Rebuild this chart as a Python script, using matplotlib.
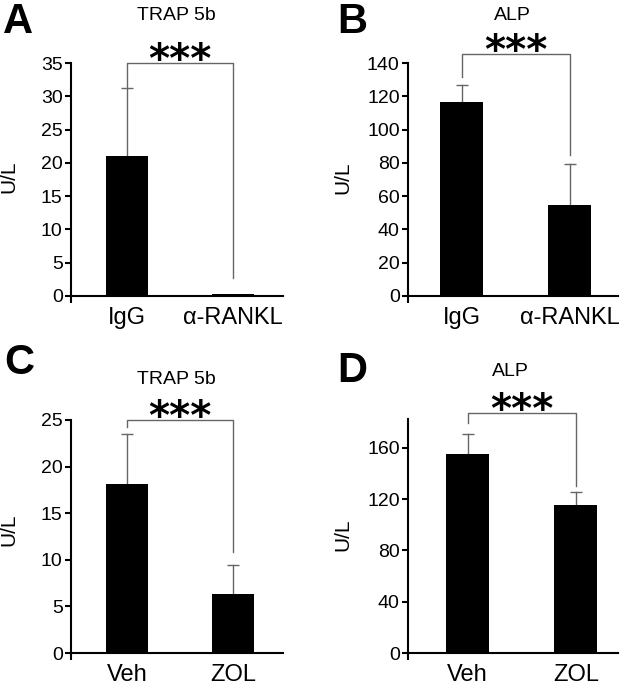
import matplotlib
matplotlib.use("Agg")
import matplotlib.pyplot as plt

plt.rcParams["font.family"] = ["Liberation Sans", "DejaVu Sans"]

W, H = 622, 691

# данные панелей
letters = ["A", "B", "C", "D"]
titles = ["TRAP 5b", "ALP", "TRAP 5b", "ALP"]
groups_ab = ["IgG", "\u03b1-RANKL"]
groups_cd = ["Veh", "ZOL"]
means_a = [21.0, 0.3]
err_a = [10.3, 0.0]
means_b = [116.8, 54.7]
err_b = [10.2, 24.6]
means_c = [18.1, 6.3]
err_c = [5.4, 3.1]
means_d = [155.3, 115.5]
err_d = [15.7, 10.2]
# скобки значимости: высота, нижний конец слева, нижний конец справа
bracket_a = [35.0, 31.3, 2.7]
bracket_b = [145.4, 131.6, 84.7]
bracket_c = [25.0, 24.2, 10.8]
bracket_d = [187.3, 179.5, 130.0]
yticks_a = [0, 5, 10, 15, 20, 25, 30, 35]
yticks_b = [0, 20, 40, 60, 80, 100, 120, 140]
yticks_c = [0, 5, 10, 15, 20, 25]
yticks_d = [0, 40, 80, 120, 160]

panels = [
    dict(box=(71, 283, 63, 296), xlim=(0.47, 2.47), ylim=(0, 35), yt=yticks_a,
         groups=groups_ab, m=means_a, e=err_a, br=bracket_a,
         letter=(18, 22), title=(176, 15), ylab=(18, 177)),
    dict(box=(408, 618, 63, 296), xlim=(0.5, 2.45), ylim=(0, 140), yt=yticks_b,
         groups=groups_ab, m=means_b, e=err_b, br=bracket_b,
         letter=(352, 22), title=(512, 15), ylab=(352, 178)),
    dict(box=(71, 283, 420, 653), xlim=(0.47, 2.47), ylim=(0, 25), yt=yticks_c,
         groups=groups_cd, m=means_c, e=err_c, br=bracket_c,
         letter=(19, 363), title=(176, 380), ylab=(18, 530)),
    dict(box=(408, 618, 419, 653), xlim=(0.45, 2.39), ylim=(0, 182.5), yt=yticks_d,
         groups=groups_cd, m=means_d, e=err_d, br=bracket_d,
         letter=(352, 371), title=(510, 372), ylab=(352, 535)),
]

fig = plt.figure(figsize=(W / 100, H / 100), dpi=100)
gray = "#666666"

for i, p in enumerate(panels):
    l, r, t, b = p["box"]
    ax = fig.add_axes([l / W, 1 - b / H, (r - l) / W, (b - t) / H])
    x = [1, 2]
    ax.bar(x, p["m"], width=0.4, color="black", zorder=2)
    # только верхняя половина планки погрешности
    tops = [m + e for m, e in zip(p["m"], p["e"])]
    for xi, m, tp, e in zip(x, p["m"], tops, p["e"]):
        if e > 0:
            ax.plot([xi, xi], [m, tp], color=gray, lw=1, zorder=1)
            ax.plot([xi], [tp], marker="_", ms=8, mew=1, color=gray, zorder=1)
    ax.set_xlim(*p["xlim"])
    ax.set_ylim(*p["ylim"])
    ax.set_yticks(p["yt"])
    ax.set_xticks(x)
    ax.set_xticklabels(p["groups"], fontsize=17)
    ax.tick_params(axis="x", length=0, pad=8)
    ax.tick_params(axis="y", labelsize=14, length=4, width=1.5, pad=2)
    ax.set_xticks([p["xlim"][0]], minor=True)
    ax.tick_params(axis="x", which="minor", length=5, width=1.5)
    for s in ["top", "right"]:
        ax.spines[s].set_visible(False)
    for s in ["left", "bottom"]:
        ax.spines[s].set_linewidth(1.5)
    ax.set_ylabel("U/L", fontsize=15)
    ax.yaxis.set_label_coords((p["ylab"][0] - l) / (r - l), (b - p["ylab"][1]) / (b - t))

    # скобка и звёздочки
    yb, yl, yr = p["br"]
    ax.plot([1, 1, 2, 2], [yl, yb, yb, yr], color=gray, lw=1, clip_on=False)
    ax.annotate("***", xy=(1.5, yb), xytext=(0, -6.5), textcoords="offset points",
                ha="center", va="baseline", fontsize=29, fontweight="bold",
                family="DejaVu Sans", annotation_clip=False)

    fig.text(p["title"][0] / W, 1 - p["title"][1] / H, titles[i],
             ha="center", va="center", fontsize=14)
    fig.text(p["letter"][0] / W, 1 - p["letter"][1] / H, letters[i],
             ha="center", va="center", fontsize=30, fontweight="bold")

fig.savefig("out.png", dpi=100)
